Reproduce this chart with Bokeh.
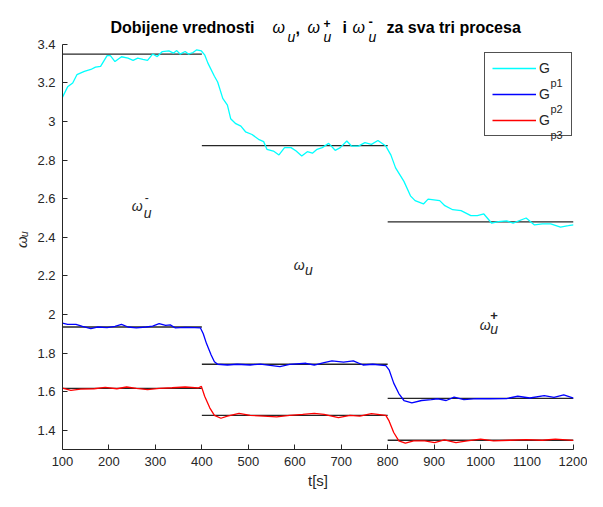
import math
from bokeh.plotting import figure
from bokeh.models import Label, Legend, LegendItem, FixedTicker, NumeralTickFormatter, Range1d
from bokeh.embed import file_html
from bokeh.resources import INLINE

# ---------------- data ----------------
t_gp1 = [100, 111, 122, 131, 147, 161, 171, 182, 196, 203, 213, 227, 241, 252, 262, 273, 283, 294,
         304, 315, 329, 339, 346, 353, 364, 371, 381, 389, 399, 406, 413, 427, 434, 445, 455, 462,
         473, 484, 494, 508, 522, 533, 540, 554, 566, 578, 592, 603, 615, 627, 638, 648, 659, 673,
         687, 698, 712, 722, 737, 751, 765, 779, 796, 807, 817, 835, 849, 859, 877, 887, 912, 923,
         940, 958, 979, 993, 1007, 1024, 1038, 1056, 1070, 1098, 1116, 1133, 1151, 1172, 1189, 1200]
gp1 = [3.126, 3.18, 3.20, 3.243, 3.26, 3.27, 3.282, 3.286, 3.342, 3.342, 3.311, 3.336, 3.329, 3.317,
       3.329, 3.322, 3.317, 3.35, 3.337, 3.363, 3.366, 3.355, 3.368, 3.35, 3.363, 3.35, 3.358, 3.372,
       3.366, 3.346, 3.303, 3.235, 3.205, 3.12, 3.085, 3.015, 2.989, 2.976, 2.947, 2.933, 2.908, 2.896,
       2.856, 2.847, 2.827, 2.865, 2.865, 2.847, 2.822, 2.844, 2.836, 2.856, 2.865, 2.887, 2.851, 2.865,
       2.899, 2.873, 2.873, 2.891, 2.882, 2.902, 2.873, 2.826, 2.76, 2.69, 2.615, 2.59, 2.573, 2.598,
       2.59, 2.564, 2.543, 2.538, 2.512, 2.512, 2.521, 2.473, 2.481, 2.485, 2.474, 2.5, 2.464, 2.47,
       2.47, 2.453, 2.46, 2.465]

t_gp2 = [100, 111, 129, 143, 161, 175, 196, 213, 227, 241, 259, 280, 294, 308, 322, 332, 343, 364,
         385, 397, 403, 410, 420, 427, 434, 455, 476, 504, 526, 547, 568, 589, 624, 642, 663, 680,
         705, 726, 747, 768, 796, 803, 813, 824, 835, 852, 873, 894, 908, 926, 943, 964, 992, 1020,
         1056, 1080, 1106, 1137, 1158, 1179, 1200]
gp2 = [1.955, 1.949, 1.949, 1.938, 1.926, 1.935, 1.932, 1.938, 1.949, 1.935, 1.93, 1.935, 1.94, 1.952,
       1.943, 1.946, 1.93, 1.933, 1.932, 1.93, 1.90, 1.849, 1.79, 1.755, 1.742, 1.738, 1.742, 1.738,
       1.743, 1.736, 1.73, 1.741, 1.747, 1.738, 1.75, 1.759, 1.753, 1.759, 1.738, 1.742, 1.735, 1.713,
       1.644, 1.59, 1.554, 1.542, 1.554, 1.559, 1.563, 1.554, 1.572, 1.559, 1.564, 1.563, 1.564,
       1.576, 1.567, 1.579, 1.57, 1.583, 1.566]

t_gp3 = [100, 118, 139, 168, 192, 217, 238, 259, 283, 308, 336, 364, 392, 399, 406, 417, 427, 441,
         455, 480, 504, 533, 561, 589, 617, 642, 663, 694, 719, 740, 765, 796, 803, 813, 824, 838,
         856, 880, 901, 922, 947, 971, 1000, 1028, 1063, 1098, 1133, 1161, 1200]
gp3 = [1.618, 1.607, 1.613, 1.615, 1.622, 1.615, 1.624, 1.617, 1.61, 1.617, 1.62, 1.624, 1.619, 1.627,
       1.576, 1.516, 1.477, 1.462, 1.473, 1.487, 1.477, 1.473, 1.469, 1.477, 1.482, 1.487, 1.482,
       1.465, 1.477, 1.473, 1.486, 1.477, 1.448, 1.388, 1.345, 1.333, 1.345, 1.345, 1.336, 1.35,
       1.336, 1.345, 1.354, 1.345, 1.348, 1.351, 1.348, 1.354, 1.347]

seg_edges = [100, 400, 800, 1200]
ref_gp1 = [3.35, 2.875, 2.48]
ref_gp2 = [1.935, 1.742, 1.565]
ref_gp3 = [1.617, 1.477, 1.348]

x_ticks = [100, 200, 300, 400, 500, 600, 700, 800, 900, 1000, 1100, 1200]
y_ticks = [1.4, 1.6, 1.8, 2.0, 2.2, 2.4, 2.6, 2.8, 3.0, 3.2, 3.4]
y_min, y_max = 1.3, 3.4

# ---------------- layout ----------------
FONT = "Liberation Sans"
AX = "#262626"
W, H = 587, 491
LEFT, RIGHT, BOTTOM = 62, 14, 41
TOP_GAP = 44                       # pixels between the frame top and the value 3.4 (title room)
FB = H - BOTTOM                    # frame bottom (page px)
y_top = y_max + TOP_GAP * (y_max - y_min) / (FB - TOP_GAP)

p = figure(width=W, height=H, x_range=Range1d(100, 1200), y_range=Range1d(y_min, y_top),
           output_backend="svg", toolbar_location=None,
           min_border_left=LEFT, min_border_right=RIGHT, min_border_top=0, min_border_bottom=BOTTOM)
p.outline_line_color = None
p.grid.visible = False
p.background_fill_color = "white"

for ax in (p.xaxis[0], p.yaxis[0]):
    ax.axis_line_color = AX
    ax.major_tick_line_color = AX
    ax.minor_tick_line_color = None
    ax.major_tick_in = 5
    ax.major_tick_out = 0
    ax.major_label_text_font = FONT
    ax.major_label_text_font_size = "13px"
    ax.major_label_text_color = AX
    ax.axis_line_width = 1
    ax.axis_label_text_font = FONT
    ax.axis_label_text_color = AX
p.xaxis[0].ticker = FixedTicker(ticks=x_ticks)
p.yaxis[0].ticker = FixedTicker(ticks=y_ticks)
p.yaxis[0].bounds = (y_min, y_max)
p.yaxis[0].formatter = NumeralTickFormatter(format="0.[0]")
p.xaxis[0].major_label_standoff = 7
p.yaxis[0].major_label_standoff = 7
p.xaxis[0].axis_label = "t[s]"
p.xaxis[0].axis_label_text_font_style = "normal"
p.xaxis[0].axis_label_text_font_size = "15px"
p.xaxis[0].axis_label_standoff = 3
p.yaxis[0].axis_label = "\u03c9\u1d64" + "\u00a0" * 7
p.yaxis[0].axis_label_text_font_style = "italic"
p.yaxis[0].axis_label_text_font_size = "15px"
p.yaxis[0].axis_label_standoff = 4

# reference (step) values
for lv in (ref_gp1, ref_gp2, ref_gp3):
    p.segment(x0=seg_edges[:-1], x1=seg_edges[1:], y0=lv, y1=lv, line_color="black", line_width=1.3,
              line_alpha=0.85)

r1 = p.line(t_gp1, gp1, line_color="#00FFFF", line_width=1.3)
r2 = p.line(t_gp2, gp2, line_color="#0000FF", line_width=1.3)
r3 = p.line(t_gp3, gp3, line_color="#FF0000", line_width=1.3)

# legend (transparent fill so the subscript labels show through; the frame is white)
legend = Legend(items=[LegendItem(label="G", renderers=[r1]),
                       LegendItem(label="G", renderers=[r2]),
                       LegendItem(label="G", renderers=[r3])],
                location=(484 - LEFT, FB - 137), padding=7, spacing=10, glyph_width=44,
                glyph_height=16, label_height=16, label_width=25, label_standoff=3,
                label_text_font=FONT, label_text_font_size="14px", label_text_color=AX,
                border_line_color=AX, border_line_width=1, border_line_alpha=0.8,
                background_fill_alpha=0.0, margin=0)
p.add_layout(legend)


def lab(text, x_px, base_px, size="14px", style="normal", color="black"):
    """label placed in page pixels (frame relative screen units)"""
    p.add_layout(Label(x=x_px - LEFT, y=FB - base_px, x_units="screen", y_units="screen", text=text,
                       text_font=FONT, text_font_size=size, text_font_style=style,
                       text_color=color, text_baseline="alphabetic", text_align="left",
                       level="overlay"))


def dlab(text, x, y, size="14px", style="normal"):
    """label placed in data units"""
    p.add_layout(Label(x=x, y=y, text=text, text_font=FONT, text_font_size=size,
                       text_font_style=style, text_color=AX, text_baseline="alphabetic",
                       text_align="left", level="overlay"))


for i, sub in enumerate(["p1", "p2", "p3"]):
    lab(sub, 550, 83 + 26 * i, size="11px", color=AX)

# title pieces
lab("Dobijene vrednosti", 110, 28, size="16px", style="bold")
lab("\u03c9", 272, 28, size="16px", style="italic")
lab("u", 287, 37, size="14px", style="italic")
lab(",", 295, 28, size="16px", style="bold")
lab("\u03c9", 307, 28, size="16px", style="italic")
lab("+", 323, 24, size="12px", style="bold")
lab("u", 323, 37, size="14px", style="italic")
lab("i", 342, 28, size="16px", style="bold")
lab("\u03c9", 352, 28, size="16px", style="italic")
lab("-", 368, 22, size="13px", style="bold")
lab("u", 368, 37, size="14px", style="italic")
lab("za sva tri procesa", 386, 28, size="16px", style="bold")

# in-plot annotations (data units)
dlab("\u03c9", 249, 2.561, style="italic")
dlab("-", 277, 2.607, size="12px")
dlab("u", 275, 2.525, style="italic")

dlab("\u03c9", 598, 2.257, style="italic")
dlab("u", 622, 2.232, style="italic")

dlab("\u03c9", 998, 1.943, style="italic")
dlab("+", 1021, 1.995, size="13px", style="bold")
dlab("u", 1021, 1.923, style="italic")

open("out.html", "w").write(file_html(p, INLINE))
